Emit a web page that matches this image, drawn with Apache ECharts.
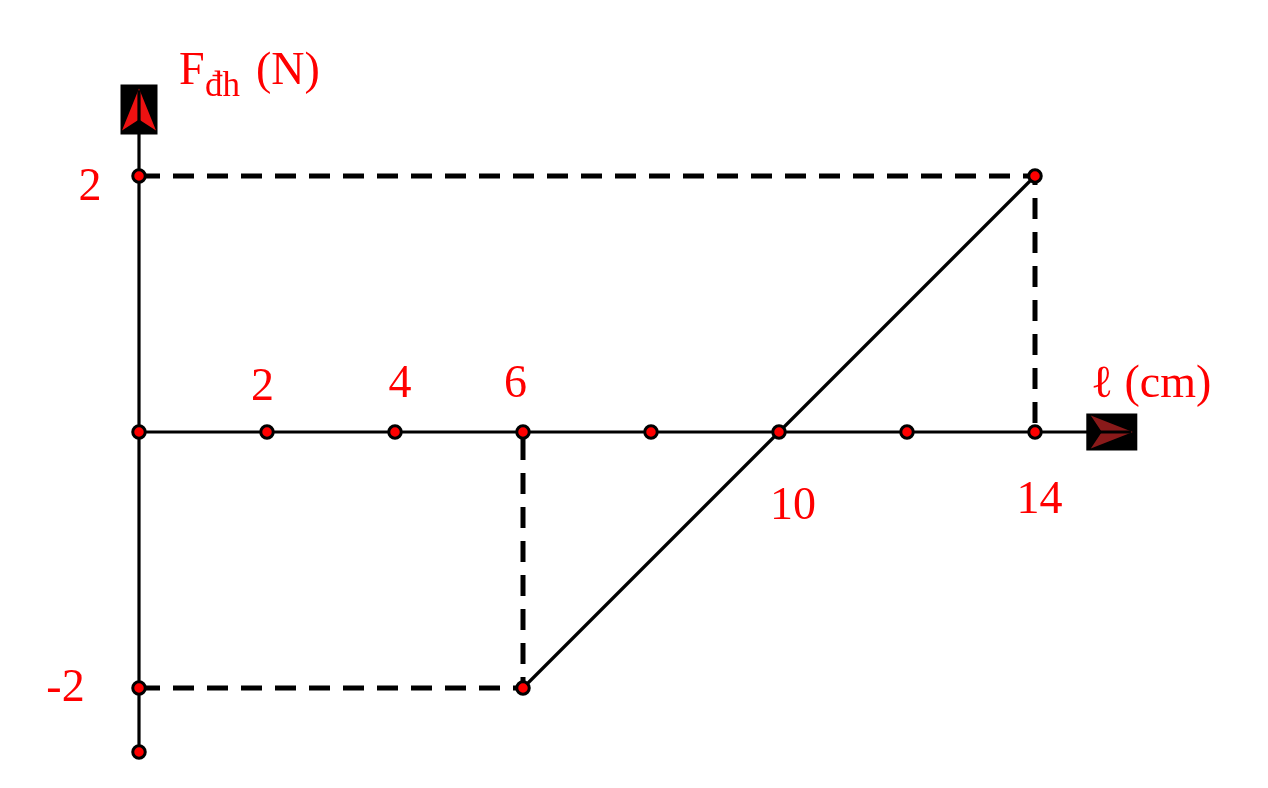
<!DOCTYPE html>
<html>
<head>
<meta charset="utf-8">
<script src="https://cdn.jsdelivr.net/npm/echarts@6/dist/echarts.min.js"></script>
<style>html,body{margin:0;padding:0;background:#fff}#c{width:1268px;height:788px}</style>
</head>
<body>
<div id="c"></div>
<script>
// ---- data ----
const xDotValues = [0, 2, 4, 6, 8, 10, 12, 14];   // dots on the l axis (cm)
const yDotValues = [2, -2, -2.5];                 // dots on the F axis (N)
const lineL = [6, 14];                            // l (cm) of the solid segment
const lineF = [-2, 2];                            // F (N) of the solid segment
const xTickLabels = ['2', '4', '6', '10', '14'];
const xTickValues = [2, 4, 6, 10, 14];
const yTickLabels = ['2', '-2'];
const yTickValues = [2, -2];
const xAxisEnd = 15.5, yAxisEnd = 2.67, yAxisStart = -2.5;
const xArrowAt = 15.2, yArrowAt = 2.52;

// ---- styling (offsets of labels in px) ----
const xLabelOffsets = [[-4.5, -44.5], [5, -47], [-7.5, -47], [14, 74.5], [4.5, 69]];
const yLabelOffsets = [[-49, 11.5], [-73.5, 0.5]];
const RED = '#ff0000';
const FONT = '"Liberation Serif", "Times New Roman", serif';

const chart = echarts.init(document.getElementById('c'), null, {renderer: 'canvas'});

const dots = xDotValues.map(v => [v, 0])
  .concat(yDotValues.map(v => [0, v]))
  .concat(lineL.map((l, i) => [l, lineF[i]]));

const labelData = xTickLabels.map((t, i) => ({
  value: [xTickValues[i], 0], name: t, label: {offset: xLabelOffsets[i]}
})).concat(yTickLabels.map((t, i) => ({
  value: [0, yTickValues[i]], name: t, label: {offset: yLabelOffsets[i]}
})));

const solid = {color: '#000', width: 3.2, opacity: 1};
const dashed = {color: '#000', width: 5, type: [21, 13], opacity: 1};

chart.setOption({
  animation: false,
  backgroundColor: '#fff',
  grid: {left: 11, width: 1216, top: 80, height: 704},
  xAxis: {type: 'value', min: -2, max: 17, show: false},
  yAxis: {type: 'value', min: -2.75, max: 2.75, show: false},
  series: [
    {type: 'scatter', z: 1, silent: true, symbol: 'rect', symbolSize: [37, 50],
      itemStyle: {color: '#000', opacity: 1}, data: [[0, yArrowAt]]},
    {type: 'scatter', z: 1, silent: true, symbol: 'rect', symbolSize: [51, 37],
      itemStyle: {color: '#000', opacity: 1}, data: [[xArrowAt, 0]]},
    {type: 'scatter', z: 2, silent: true, symbol: 'path://M17,0 L34,42 L17,31 L0,42 Z',
      symbolSize: [34, 42], symbolKeepAspect: false, itemStyle: {color: '#ee1111', opacity: 1}, data: [[0, yArrowAt]]},
    {type: 'scatter', z: 2, silent: true, symbol: 'path://M0,0 L42,16.5 L0,33 L11,16.5 Z',
      symbolSize: [42, 33], symbolKeepAspect: false, itemStyle: {color: '#8a1a1a', opacity: 1}, data: [[xArrowAt, 0]]},
    {type: 'line', z: 3, silent: true, symbol: 'none', lineStyle: solid,
      data: [[0, yAxisStart], [0, yAxisEnd]]},
    {type: 'line', z: 3, silent: true, symbol: 'none', lineStyle: solid,
      data: [[0, 0], [xAxisEnd, 0]]},
    {type: 'line', z: 3, silent: true, symbol: 'none', lineStyle: dashed,
      data: [[0, lineF[1]], [lineL[1], lineF[1]], [lineL[1], 0]]},
    {type: 'line', z: 3, silent: true, symbol: 'none', lineStyle: dashed,
      data: [[0, lineF[0]], [lineL[0], lineF[0]], [lineL[0], 0]]},
    {type: 'line', z: 3, silent: true, symbol: 'none', lineStyle: solid,
      data: lineL.map((l, i) => [l, lineF[i]])},
    {type: 'scatter', z: 5, silent: true, symbol: 'circle', symbolSize: 12.5,
      itemStyle: {color: RED, borderColor: '#000', borderWidth: 3, opacity: 1}, data: dots},
    {type: 'scatter', z: 6, silent: true, symbolSize: 0, data: labelData,
      itemStyle: {opacity: 1},
      label: {show: true, position: 'inside', formatter: p => p.name, color: RED, opacity: 1,
        fontFamily: FONT, fontSize: 46, align: 'center', verticalAlign: 'middle'}}
  ],
  graphic: [
    {type: 'text', x: 179, y: 72, style: {text: 'F', fill: RED, font: '46px ' + FONT, verticalAlign: 'middle', align: 'left'}},
    {type: 'text', x: 205, y: 87, style: {text: 'đh', fill: RED, font: '35px ' + FONT, verticalAlign: 'middle', align: 'left'}},
    {type: 'text', x: 256, y: 72, style: {text: '(N)', fill: RED, font: '46px ' + FONT, verticalAlign: 'middle', align: 'left'}},
    {type: 'text', x: 1091, y: 385, style: {text: 'ℓ (cm)', fill: RED, font: '46px ' + FONT, verticalAlign: 'middle', align: 'left'}}
  ]
});
</script>
</body>
</html>
